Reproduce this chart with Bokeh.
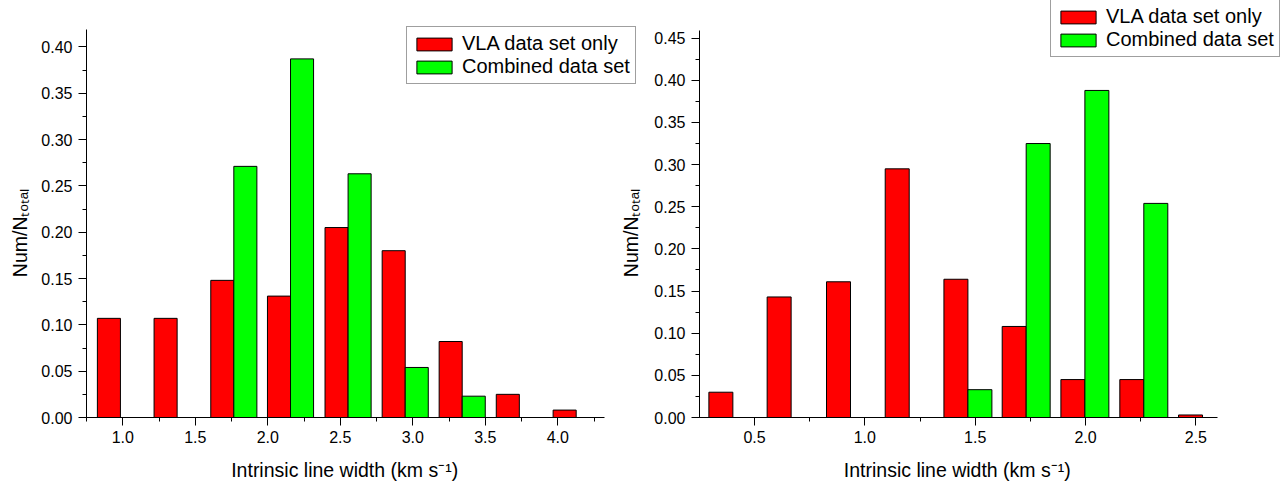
import math
from bokeh.plotting import figure
from bokeh.layouts import row
from bokeh.models import (Range1d, SingleIntervalTicker, NumeralTickFormatter,
                          Legend, LegendItem, Label, Title)
from bokeh.embed import file_html
from bokeh.resources import INLINE

# ---------------- data ----------------
series_names = ["VLA data set only", "Combined data set"]

left_bins = [0.984, 1.375, 1.766, 2.157, 2.554, 2.948, 3.341, 3.735, 4.127]
left_vla = [0.107, 0.107, 0.148, 0.131, 0.205, 0.180, 0.082, 0.025, 0.008]
left_combined = [0.0, 0.0, 0.271, 0.387, 0.263, 0.054, 0.023, 0.0, 0.0]

right_bins = [0.402, 0.666, 0.935, 1.201, 1.467, 1.731, 1.997, 2.264, 2.530]
right_vla = [0.030, 0.143, 0.161, 0.295, 0.164, 0.108, 0.045, 0.045, 0.003]
right_combined = [0.0, 0.0, 0.0, 0.0, 0.033, 0.325, 0.388, 0.254, 0.0]

x_title = "Intrinsic line width (km s\u207b\u00b9)"
y_title = "Num/N\u209c\u2092\u209c\u2090\u2097"

# ---------------- style ----------------
FONT = "Liberation Sans"
RED = "#FF0000"
GREEN = "#00FF00"
FRAME_H = 417


def make_panel(bins, vla, comb, x_range, y_range, x_bounds, y_bounds, bar_w,
               frame_w, b_left, legend_xy, xt_offset, y_title_offset=None):
    p = figure(frame_width=frame_w, frame_height=FRAME_H,
               min_border_left=b_left, min_border_right=0,
               min_border_top=0, min_border_bottom=66,
               x_range=Range1d(*x_range), y_range=Range1d(*y_range),
               output_backend="svg", toolbar_location=None,
               background_fill_color="white", border_fill_color="white")
    p.outline_line_color = None
    p.grid.visible = False

    rx = [b - bar_w / 2 for b, v in zip(bins, vla) if v > 0]
    rv = [v for v in vla if v > 0]
    gx = [b + bar_w / 2 for b, v in zip(bins, comb) if v > 0]
    gv = [v for v in comb if v > 0]
    r1 = p.vbar(x=rx, top=rv, bottom=0, width=bar_w, fill_color=RED,
                line_color="black", line_width=1)
    r2 = p.vbar(x=gx, top=gv, bottom=0, width=bar_w, fill_color=GREEN,
                line_color="black", line_width=1)

    for ax in (p.xaxis[0], p.yaxis[0]):
        ax.axis_line_color = "black"
        ax.axis_line_width = 1
        ax.major_tick_line_color = "black"
        ax.minor_tick_line_color = "black"
        ax.major_tick_out = 8
        ax.major_tick_in = 0
        ax.minor_tick_out = 4
        ax.minor_tick_in = 0
        ax.major_label_text_font = FONT
        ax.major_label_text_font_size = "16px"
        ax.major_label_text_color = "black"
    p.yaxis[0].axis_label = None
    # a blank, tiny axis label only reserves a few pixels under the tick labels
    p.xaxis[0].axis_label = " "
    p.xaxis[0].axis_label_text_font_size = "4px"
    p.xaxis[0].axis_label_standoff = 1
    p.xaxis[0].ticker = SingleIntervalTicker(interval=0.5, num_minor_ticks=2)
    p.xaxis[0].formatter = NumeralTickFormatter(format="0.0")
    p.xaxis[0].major_label_standoff = 5
    p.xaxis[0].bounds = x_bounds
    p.yaxis[0].ticker = SingleIntervalTicker(interval=0.05, num_minor_ticks=2)
    p.yaxis[0].formatter = NumeralTickFormatter(format="0.00")
    p.yaxis[0].major_label_standoff = 6
    p.yaxis[0].bounds = y_bounds

    legend = Legend(items=[LegendItem(label=series_names[0], renderers=[r1]),
                           LegendItem(label=series_names[1], renderers=[r2])],
                    location=legend_xy, orientation="vertical",
                    label_text_font=FONT, label_text_font_size="20px",
                    label_text_color="black",
                    glyph_width=44, glyph_height=16, label_standoff=6,
                    padding=5, spacing=0, margin=0,
                    border_line_color="#404040", border_line_width=1,
                    background_fill_color="white", background_fill_alpha=1.0)
    p.add_layout(legend, "center")

    p.add_layout(Title(text=x_title, align="left", offset=xt_offset,
                       vertical_align="bottom", standoff=4.6,
                       text_font=FONT, text_font_size="19.5px",
                       text_font_style="normal", text_color="black"), "below")
    if y_title_offset is not None:
        p.add_layout(Title(text=y_title, align="left", offset=y_title_offset,
                           vertical_align="top", standoff=12,
                           text_font=FONT, text_font_size="19.5px",
                           text_font_style="normal", text_color="black"),
                     "left")
    return p


# left panel: frame 86..646 x 0..417 ; right panel: frame 699..1288 x 0..417
left = make_panel(left_bins, left_vla, left_combined,
                  (0.75, 4.612), (0.0, 0.4500), (0.75, 4.322), (0.0, 0.4184),
                  0.159, 560, 86, (320, 333), 144.7, y_title_offset=140.3)
right = make_panel(right_bins, right_vla, right_combined,
                   (0.2508, 2.9196), (0.0, 0.4947), (0.2508, 2.597),
                   (0.0, 0.4596), 0.1087, 589, 53, (351, 360), 144.3)

# the right panel's y title sits in the strip shared with the left canvas
left.add_layout(Label(x=630.0, y=276.7, x_units="canvas", y_units="canvas",
                      angle=math.pi / 2, text=y_title, text_font=FONT,
                      text_font_size="19.5px", text_color="black",
                      text_align="left", text_baseline="alphabetic"))

layout = row(left, right)
open("out.html", "w").write(file_html(layout, INLINE))
